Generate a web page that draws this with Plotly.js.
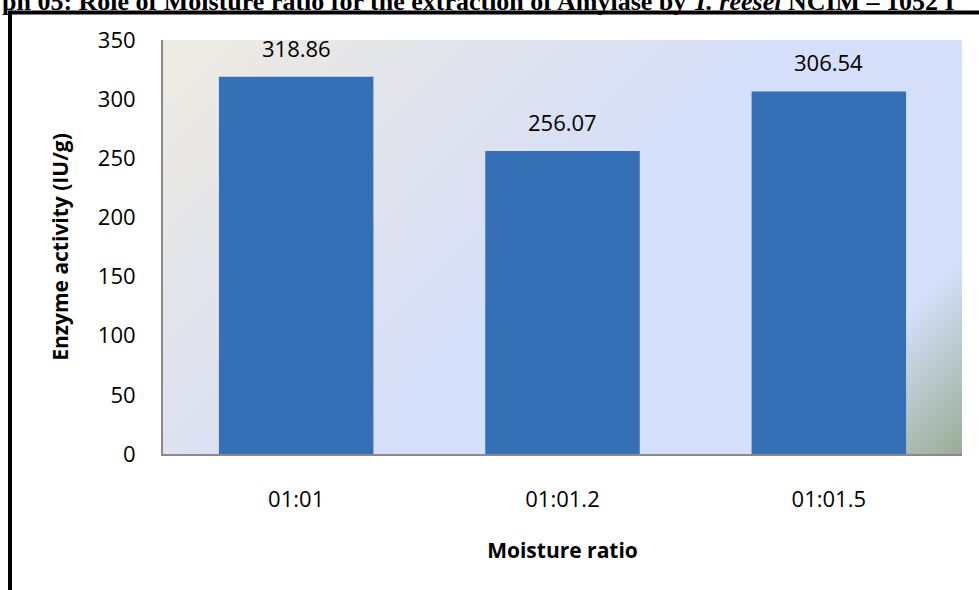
<!DOCTYPE html>
<html>
<head>
<meta charset="utf-8">
<script src="https://cdn.plot.ly/plotly-3.0.1.min.js"></script>
<style>html,body{margin:0;padding:0;background:#fff;}#chart{width:979px;height:590px;}</style>
</head>
<body>
<div id="chart"></div>
<script>
// ---- data ----
const categories = ["01:01", "01:01.2", "01:01.5"];
const activity = [318.86, 256.07, 306.54];
const valueLabels = ["318.86", "256.07", "306.54"];
const yTicks = [0, 50, 100, 150, 200, 250, 300, 350];
const chartTitle = "ph 05: Role of Moisture ratio for the extraction of Amylase by <i>T. reesei</i> NCIM – 1052 I";
const xTitle = "Moisture ratio";
const yTitle = "Enzyme activity (IU/g)";

// ---- background gradient (plot area) ----
const bgSvg = '<svg xmlns="http://www.w3.org/2000/svg" width="799" height="414" viewBox="0 0 799 414" preserveAspectRatio="none">' +
  '<defs><linearGradient id="g" gradientUnits="userSpaceOnUse" x1="0" y1="0" x2="606" y2="606">' +
  '<stop offset="0" stop-color="#eeebe1"/>' +
  '<stop offset="0.3" stop-color="#e0e3ee"/>' +
  '<stop offset="0.5" stop-color="#d5dff9"/>' +
  '<stop offset="0.84" stop-color="#d5dff9"/>' +
  '<stop offset="1" stop-color="#9aac95"/>' +
  '</linearGradient></defs><rect width="799" height="414" fill="url(#g)"/></svg>';
const bgUri = 'data:image/svg+xml;charset=utf-8,' + encodeURIComponent(bgSvg);

const font = "'Open Sans', 'Noto Sans', sans-serif";

const trace = {
  type: 'bar',
  x: categories,
  y: activity,
  marker: {color: '#3570b6', line: {width: 0}},
  hoverinfo: 'skip'
};

const annotations = categories.map((c, i) => ({
  x: c, y: activity[i], xref: 'x', yref: 'y',
  text: valueLabels[i], showarrow: false,
  yanchor: 'middle', yshift: 29,
  font: {family: font, size: 22, color: '#000'}
}));
annotations.push({
  xref: 'paper', yref: 'paper', x: -0.204, y: 1.092,
  xanchor: 'left', yanchor: 'middle',
  text: '<b>' + chartTitle + '</b>', showarrow: false,
  font: {family: "'Liberation Serif', 'Times New Roman', serif", size: 26, color: '#000'}
});

const layout = {
  width: 979, height: 590,
  margin: {l: 163, r: 17, t: 40, b: 136, pad: 0},
  paper_bgcolor: '#ffffff',
  plot_bgcolor: 'rgba(0,0,0,0)',
  showlegend: false,
  bargap: 0.42,
  font: {family: font, size: 22, color: '#000'},
  xaxis: {
    type: 'category',
    showgrid: false, zeroline: false,
    showline: true, linecolor: '#8a8a8a', linewidth: 2,
    ticks: 'outside', ticklen: 25, tickcolor: 'rgba(0,0,0,0)',
    tickfont: {family: font, size: 22, color: '#000'},
    title: {text: '<b>' + xTitle + '</b>', font: {family: font, size: 21, color: '#000'}, standoff: 31}
  },
  yaxis: {
    range: [0, 350],
    tickvals: yTicks,
    showgrid: false, zeroline: false,
    showline: true, linecolor: '#8a8a8a', linewidth: 2,
    ticks: 'outside', ticklen: 21, tickcolor: 'rgba(0,0,0,0)',
    tickfont: {family: font, size: 22, color: '#000'},
    title: {text: '<b>' + yTitle + '</b>', font: {family: font, size: 21, color: '#000'}, standoff: 23}
  },
  images: [{
    source: bgUri, xref: 'paper', yref: 'paper',
    x: 0, y: 1, sizex: 1, sizey: 1, xanchor: 'left', yanchor: 'top',
    sizing: 'stretch', layer: 'below'
  }],
  shapes: [
    {type: 'line', xref: 'paper', yref: 'paper', x0: -0.191, x1: 1.03, y0: 1.0664, y1: 1.0664, line: {color: '#000', width: 4}},
    {type: 'line', xref: 'paper', yref: 'paper', x0: -0.1915, x1: -0.1915, y0: 1.071, y1: -0.34, line: {color: '#000', width: 4}}
  ],
  annotations: annotations
};

Plotly.newPlot('chart', [trace], layout, {displayModeBar: false, staticPlot: true});
</script>
</body>
</html>
